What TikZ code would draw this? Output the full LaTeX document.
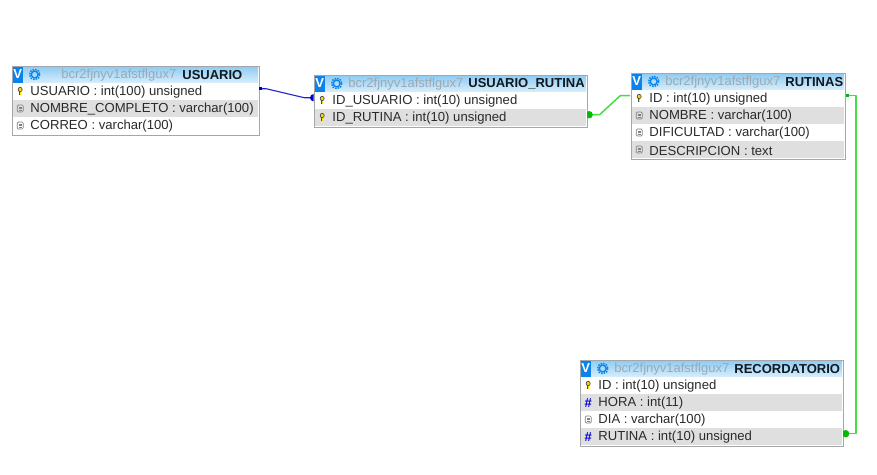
\documentclass[tikz,border=0pt]{standalone}
\usepackage{fontspec}
\setmainfont{Liberation Sans}
\usetikzlibrary{calc}
\definecolor{rowgray}{HTML}{DFDFDF}
\definecolor{frame}{HTML}{A3A7AB}
\definecolor{headtop}{HTML}{8CCBF3}
\definecolor{headbot}{HTML}{D9EEFB}
\definecolor{prefixc}{HTML}{9DA9B2}
\definecolor{namec}{HTML}{101820}
\definecolor{txt}{HTML}{2A2A2A}
\definecolor{iconblue}{HTML}{0A84EC}
\definecolor{relblue}{HTML}{2222CC}
\definecolor{relgreen}{HTML}{44DD44}
\definecolor{dotgreen}{HTML}{00BB00}
\tikzset{
  x=1pt,y=-1pt,
  tablebox/.style={draw=frame,line width=1pt,fill=none,inner sep=0pt},
  rowbox/.style={inner sep=0pt,fill=#1},
  rowtext/.style={anchor=west,inner sep=0pt,font=\fontsize{13.1}{13.1}\selectfont,text=txt},
  prefixtext/.style={anchor=west,inner sep=0pt,font=\fontsize{13}{13}\selectfont,text=prefixc},
  nametext/.style={anchor=west,inner sep=0pt,font=\fontsize{13}{13}\selectfont\bfseries,text=namec},
  vbadge/.style={fill=iconblue,inner sep=0pt,minimum width=11pt,minimum height=16pt,text=white,font=\fontsize{13}{13}\selectfont\bfseries},
  relblueline/.style={draw=relblue,line width=1.1pt,line join=round},
  relgreenline/.style={draw=relgreen,line width=1.5pt,line join=round},
  hashicon/.style={inner sep=0pt,font=\fontsize{13}{13}\selectfont\bfseries,text=blue!85!black},
}
% header: #1 name, #2 left, #3 right, #4 top, #5 bottom, #6 prefix x, #7 name x, #8 title
\newcommand{\tblhead}[8]{%
  \fill[top color=headtop,bottom color=headbot] (#2,#4) rectangle (#3,#5);
  \node[vbadge] (#1v) at (#2+5.5,{(#4+#5)/2}) {V};
  \draw[iconblue,line width=1.4pt] (#2+22.5,{(#4+#5)/2}) circle (3.4);
  \draw[iconblue,line width=1.4pt,dash pattern=on 1.6pt off 1.1pt] (#2+22.5,{(#4+#5)/2}) circle (5.2);
  \node[prefixtext] (#1p) at (#6,{(#4+#5)/2+.6}) {bcr2fjnyv1afstflgux7};
  \node[nametext] (#1n) at (#7,{(#4+#5)/2+.6}) {#8};
}
% row: #1 node name, #2 left, #3 right, #4 top, #5 fill, #6 text, #7 icon command
\newcommand{\tblrow}[7]{%
  \node[rowbox=#5,minimum width=#3-#2,minimum height=17pt,anchor=north west] (#1) at (#2,#4) {};
  #7{#2+8}{#4+8.5}
  \node[rowtext] at (#2+18,#4+9.5) {#6};
}
\newcommand{\keyicon}[2]{%
  \fill[yellow!75!orange,draw=black!70,line width=.7pt] (#1,#2-2) ellipse (2 and 2.2);
  \draw[black!70,line width=1.5pt] (#1,#2) -- (#1,#2+3.8);
  \draw[yellow!80!orange,line width=.6pt] (#1,#2) -- (#1,#2+3.4);
}
\newcommand{\txticon}[2]{%
  \draw[black!50,line width=.7pt,rounded corners=1.2pt] (#1-3,#2-3.5) rectangle (#1+3,#2+3.5);
  \foreach \d in {-1.6,0,1.6}{\draw[black!50,line width=.5pt] (#1-1.7,#2+\d) -- (#1+1.7,#2+\d);}
}
\newcommand{\hashico}[2]{\node[hashicon] at (#1,#2+.5) {\#};}
% half dot outside a table edge: #1 colour, #2 edge point, #3 side (+1 right, -1 left), #4 centre offset
\newcommand{\halfdot}[4]{%
  \begin{scope}
    \clip ($(#2)+(#3*.5,-12)$) rectangle ($(#2)+(#3*10,6)$);
    \fill[#1] ($(#2)+(#4,-3)$) circle (3.7);
  \end{scope}
}
\begin{document}
\begin{tikzpicture}
\useasboundingbox[fill=white] (0,0) rectangle (877,474);
\begin{scope}[xshift=-.8pt]
% USUARIO
\tblhead{ua}{13}{259}{66}{83}{62}{183}{USUARIO}
\tblrow{ua1}{13}{259}{83}{white}{USUARIO : int(100) unsigned}{\keyicon}
\tblrow{ua2}{13}{259}{100}{rowgray}{NOMBRE\_COMPLETO : varchar(100)}{\txticon}
\tblrow{ua3}{13}{259}{117}{white}{CORREO : varchar(100)}{\txticon}
\node[tablebox,minimum width=247pt,minimum height=69pt,anchor=north west] (usuario) at (12.5,65.5) {};

% USUARIO_RUTINA
\tblhead{ur}{315}{587}{75}{92}{349}{469}{USUARIO\_RUTINA}
\tblrow{ur1}{315}{587}{92}{white}{ID\_USUARIO : int(10) unsigned}{\keyicon}
\tblrow{ur2}{315}{587}{109}{rowgray}{ID\_RUTINA : int(10) unsigned}{\keyicon}
\node[tablebox,minimum width=273pt,minimum height=52pt,anchor=north west] (usuariorutina) at (314.5,74.5) {};

% RUTINAS
\tblhead{ru}{632}{845}{73}{90}{666}{786}{RUTINAS}
\tblrow{ru1}{632}{845}{90}{white}{ID : int(10) unsigned}{\keyicon}
\tblrow{ru2}{632}{845}{107}{rowgray}{NOMBRE : varchar(100)}{\txticon}
\tblrow{ru3}{632}{845}{124}{white}{DIFICULTAD : varchar(100)}{\txticon}
\tblrow{ru4}{632}{845}{141}{rowgray}{DESCRIPCION : text}{\txticon}
\node[tablebox,minimum width=214pt,minimum height=86pt,anchor=north west] (rutinas) at (631.5,72.5) {};

% RECORDATORIO
\tblhead{re}{581}{843}{360}{377}{615}{735}{RECORDATORIO}
\tblrow{re1}{581}{843}{377}{white}{ID : int(10) unsigned}{\keyicon}
\tblrow{re2}{581}{843}{394}{rowgray}{HORA : int(11)}{\hashico}
\tblrow{re3}{581}{843}{411}{white}{DIA : varchar(100)}{\txticon}
\tblrow{re4}{581}{843}{428}{rowgray}{RUTINA : int(10) unsigned}{\hashico}
\node[tablebox,minimum width=263pt,minimum height=86pt,anchor=north west] (recordatorio) at (580.5,359.5) {};

% relations
\draw[relblueline] ($(ua1.east)+(.5,-3)$) -- ++(7,0) -- ($(ur1.west)+(-10,-3)$) -- ($(ur1.west)+(-2,-3)$);
\fill[blue!80!black] ($(ua1.east)+(.5,-4.5)$) rectangle ++(3,3);
\halfdot{blue!80!black}{ur1.west}{-1}{-.5}

\draw[relgreenline] ($(ur2.east)+(4,-3)$) -- ++(9,0) -- ($(ru1.west)+(-11,-3)$) -- ($(ru1.west)+(-1,-3)$);
\halfdot{dotgreen}{ur2.east}{1}{2.5}

\coordinate (rstart) at ($(ru1.east)+(1,-3)$);
\coordinate (rend) at ($(re4.east)+(5,-3)$);
\coordinate (rtop) at ($(rstart)+(10.6,0)$);
\coordinate (rbot) at (rtop |- rend);
\draw[relgreenline] (rstart) -- (rtop) -- (rbot) -- (rend);
\fill[dotgreen] ($(ru1.east)+(1,-4.5)$) rectangle ++(3,3);
\halfdot{dotgreen}{re4.east}{1}{3}
\end{scope}
\end{tikzpicture}
\end{document}
